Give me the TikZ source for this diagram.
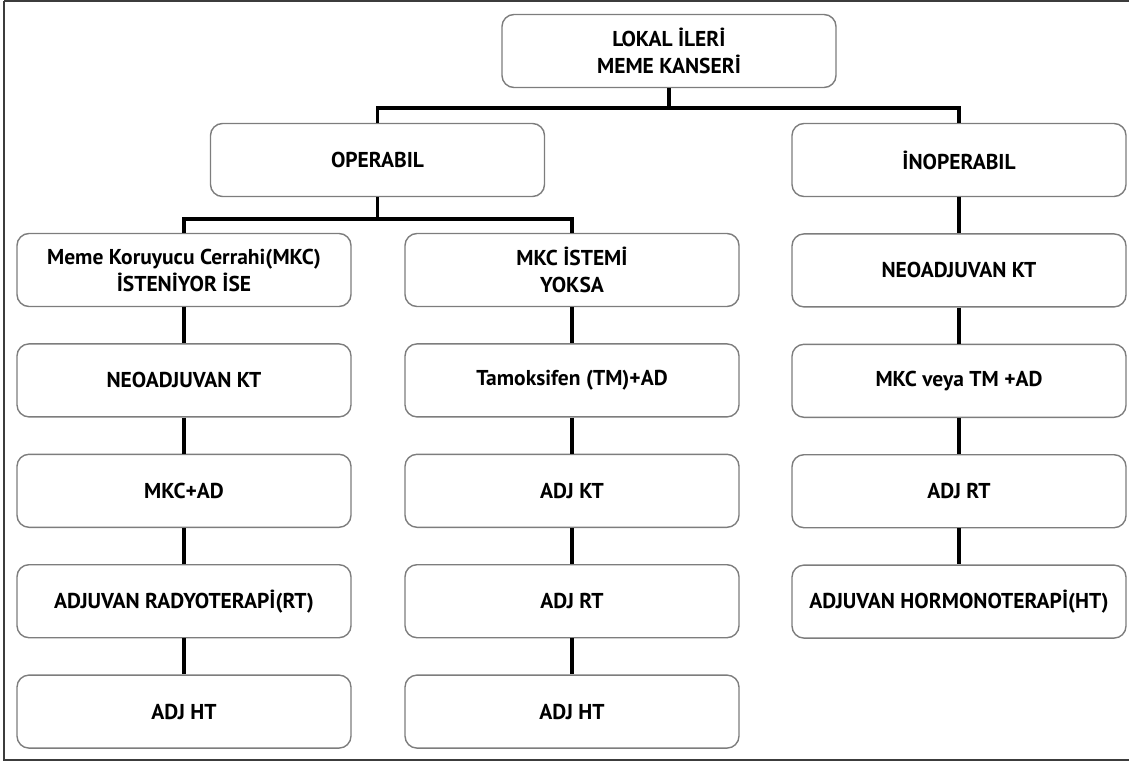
\documentclass[tikz,border=0pt]{standalone}
\usepackage{fontspec}
\setmainfont{PT Sans}
\usetikzlibrary{positioning}
\definecolor{boxgray}{RGB}{125,125,125}
\definecolor{framegray}{RGB}{60,60,60}
\tikzset{
	flow chart/.style={
		x=1pt, y=-1pt,
		node distance=36pt and 0pt,
		box/.style={draw=boxgray, line width=1.4pt, rounded corners=12pt,
			minimum width=334pt, minimum height=73pt, inner sep=0pt,
			align=center, font=\fontsize{21.5}{27}\selectfont\bfseries},
		wire/.style={draw, line width=3.3pt},
		frame/.style={draw=framegray, line width=1.5pt}
	}
}

\begin{document}
\begin{tikzpicture}[flow chart]
	\useasboundingbox (0,0) rectangle (1129,762);
	\draw[frame] (4,1) -- (1140,1) (4,1) -- (4,760) -- (1140,760);

	\node[box] (top) at (669,51) {LOKAL İLERİ\\MEME KANSERİ};
	\node[box] (op) at (377.5,160) {OPERABIL};
	\node[box] (inop) at (959,160) {İNOPERABIL};

	% operabil, MKC isteniyor
	\node[box] (a1) at (184,270) {Meme Koruyucu Cerrahi(MKC)\\İSTENİYOR İSE};
	\node[box, below=of a1] (a2) {NEOADJUVAN KT};
	\node[box, below=of a2] (a3) {MKC+AD};
	\node[box, below=of a3] (a4) {ADJUVAN RADYOTERAPİ(RT)};
	\node[box, below=of a4] (a5) {ADJ HT};

	% operabil, MKC istemi yok
	\node[box] (b1) at (572,270) {MKC İSTEMİ\\YOKSA};
	\node[box, below=of b1] (b2) {Tamoksifen (TM)+AD};
	\node[box, below=of b2] (b3) {ADJ KT};
	\node[box, below=of b3] (b4) {ADJ RT};
	\node[box, below=of b4] (b5) {ADJ HT};

	% inoperabil
	\node[box, below=of inop] (c1) {NEOADJUVAN KT};
	\node[box, below=of c1] (c2) {MKC veya TM +AD};
	\node[box, below=of c2] (c3) {ADJ RT};
	\node[box, below=of c3] (c4) {ADJUVAN HORMONOTERAPİ(HT)};

	% tree lines
	\draw[wire] (top.south) -- (top.south |- 0,108) coordinate (t0)
		(op.north) |- (t0) -| (inop.north);
	\draw[wire] (op.south) -- (op.south |- 0,219) coordinate (o0)
		(a1.north) |- (o0) -| (b1.north);
	\foreach \u/\v in {a1/a2, a2/a3, a3/a4, a4/a5, b1/b2, b2/b3, b3/b4, b4/b5,
		inop/c1, c1/c2, c2/c3, c3/c4}
		\draw[wire] (\u.south) -- (\v.north);
\end{tikzpicture}
\end{document}
